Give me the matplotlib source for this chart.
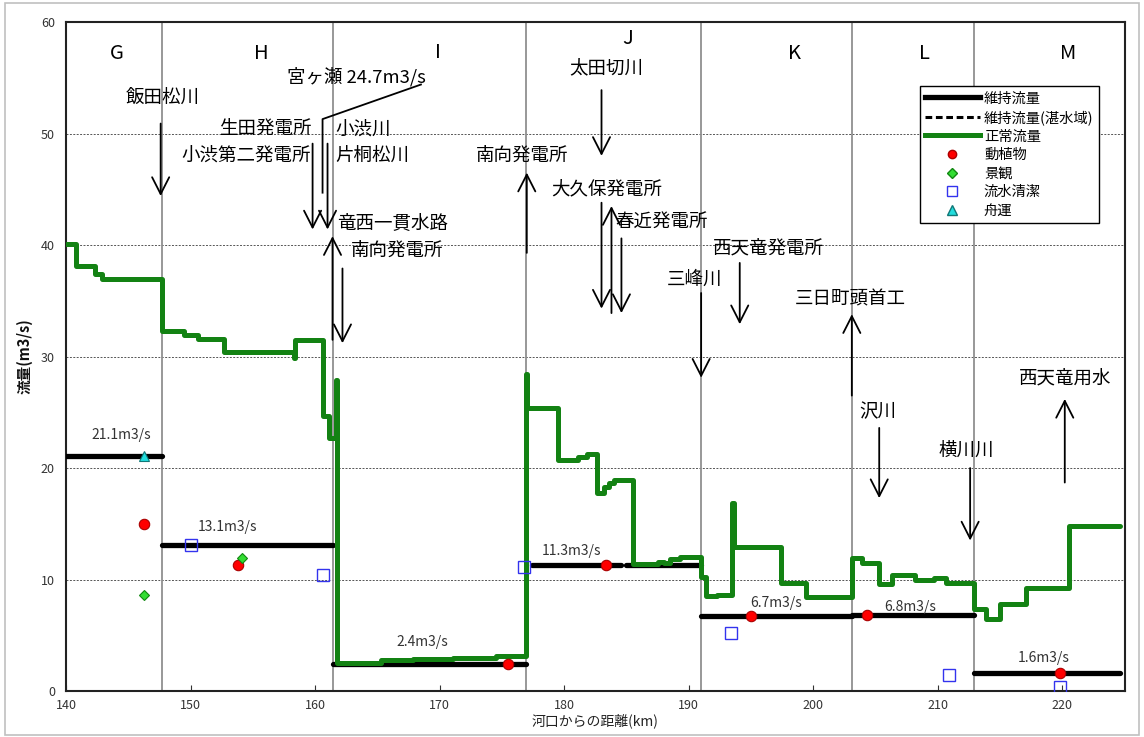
import matplotlib
matplotlib.use("Agg")
import matplotlib.pyplot as plt
from matplotlib.lines import Line2D
from matplotlib.patches import Rectangle

plt.rcParams['font.family'] = ['Noto Sans CJK JP', 'DejaVu Sans']

# ---------------- data ----------------
# 正常流量 (step series: value holds from km[i] to km[i+1])
normal_km = [140.0, 140.8, 142.3, 142.9, 147.7, 149.5, 150.6, 152.7, 158.3, 158.4,
             160.6, 161.1, 161.7, 161.8, 165.3, 167.9, 171.1, 174.5, 176.9, 177.0,
             179.5, 181.1, 181.8, 182.6, 183.2, 183.6, 184.0, 185.5, 187.5, 188.0,
             188.5, 189.3, 191.0, 191.4, 192.3, 193.5, 193.6, 197.4, 199.4, 203.1,
             203.9, 205.3, 206.3, 208.2, 209.7, 210.7, 212.9, 213.9, 215.0, 217.1,
             220.5, 224.6]
normal_q = [40.1, 38.1, 37.4, 37.0, 32.3, 31.9, 31.6, 30.4, 29.9, 31.5,
            24.7, 22.7, 27.9, 2.5, 2.8, 2.9, 3.0, 3.1, 28.4, 25.4,
            20.7, 21.0, 21.3, 17.8, 18.3, 18.7, 18.9, 11.4, 11.6, 11.5,
            11.8, 12.0, 10.2, 8.5, 8.6, 16.9, 12.9, 9.7, 8.4, 11.9,
            11.5, 9.6, 10.4, 10.0, 10.1, 9.7, 7.4, 6.5, 7.8, 9.2,
            14.8, 14.8]

# 維持流量 segments
maint_start = [140.0, 147.7, 161.4, 177.4, 185.0, 191.0, 203.1, 212.9]
maint_end = [147.7, 161.4, 176.9, 184.6, 191.0, 203.1, 212.9, 224.6]
maint_q = [21.1, 13.1, 2.4, 11.3, 11.3, 6.7, 6.8, 1.6]
maint_labels = ['21.1m3/s', '13.1m3/s', '2.4m3/s', '11.3m3/s', '6.7m3/s', '6.8m3/s', '1.6m3/s']
maint_label_km = [144.4, 153.0, 168.6, 180.6, 197.0, 207.8, 218.5]
maint_label_q = [23.0, 14.7, 4.4, 12.6, 7.9, 7.5, 3.0]

# point data
eco_km = [146.3, 153.8, 175.5, 183.4, 195.0, 204.3, 219.8]
eco_q = [15.0, 11.3, 2.4, 11.3, 6.7, 6.8, 1.6]
scene_km = [146.3, 154.1]
scene_q = [8.6, 11.9]
clean_km = [150.0, 160.6, 176.8, 193.4, 210.9, 219.8]
clean_q = [13.1, 10.4, 11.1, 5.2, 1.4, 0.4]
boat_km = [146.3]
boat_q = [21.1]

# sections
section_bounds = [147.7, 161.4, 176.9, 191.0, 203.1, 212.9]
section_names = ['G', 'H', 'I', 'J', 'K', 'L', 'M']
section_label_km = [144.1, 155.7, 169.9, 185.1, 198.5, 208.9, 220.5]
section_label_q = [57.2, 57.2, 57.3, 58.5, 57.2, 57.2, 57.2]

# annotation texts (text, km, q, ha)
note_text = ['飯田松川', '宮ヶ瀬 24.7m3/s', '生田発電所', '小渋第二発電所', '小渋川', '片桐松川',
             '竜西一貫水路', '南向発電所', '南向発電所', '太田切川', '大久保発電所', '春近発電所',
             '三峰川', '西天竜発電所', '三日町頭首工', '沢川', '横川川', '西天竜用水']
note_km = [147.8, 163.3, 159.7, 159.7, 161.6, 161.6,
           161.8, 166.6, 176.6, 183.4, 183.4, 187.8,
           190.5, 196.4, 203.0, 205.2, 212.3, 220.2]
note_q = [53.2, 55.1, 50.4, 48.0, 50.4, 48.0,
          42.0, 39.5, 48.0, 55.9, 45.0, 42.0,
          36.9, 39.7, 35.1, 25.0, 21.5, 28.0]
note_ha = ['center', 'center', 'right', 'right', 'left', 'left',
           'left', 'center', 'center', 'center', 'center', 'center',
           'center', 'center', 'center', 'center', 'center', 'center']

# arrows (km, tail q, tip q)
arrow_km = [147.6, 159.8, 161.0, 161.4, 162.2, 177.0, 183.0, 183.0, 183.8, 184.6,
            191.0, 194.1, 203.1, 205.3, 212.6, 220.2]
arrow_tail = [50.9, 49.1, 49.1, 31.5, 37.9, 39.3, 53.9, 43.8, 33.9, 40.6,
              35.7, 38.4, 26.5, 23.6, 20.0, 18.7]
arrow_tip = [44.4, 41.4, 41.4, 40.8, 31.2, 46.5, 48.0, 34.3, 43.5, 33.9,
             28.1, 32.9, 33.8, 17.3, 13.5, 26.2]

# 宮ヶ瀬 leader line
leader_km = [168.5, 160.6, 160.6]
leader_q = [54.4, 51.3, 44.7]

# ---------------- figure ----------------
fig = plt.figure(figsize=(11.44, 7.37), dpi=100)
ax = fig.add_axes([0.0577, 0.0624, 0.9253, 0.9076])
fig.patches.append(Rectangle((0.004, 0.003), 0.992, 0.993, transform=fig.transFigure,
                             fill=False, edgecolor='#c0c0c0', lw=1.2))

ax.set_xlim(140, 225)
ax.set_ylim(0, 60)
ax.set_xticks(range(140, 221, 10))
ax.set_yticks(range(0, 61, 10))
ax.tick_params(axis='x', direction='in', length=4, labelsize=9, pad=6, colors='#333333')
ax.tick_params(axis='y', length=0, labelsize=9, pad=8, colors='#333333')
for sp in ax.spines.values():
    sp.set_linewidth(1.5)
    sp.set_color('#222222')

for yv in range(10, 60, 10):
    ax.axhline(yv, color='#555555', lw=0.7, ls=(0, (2, 1.5)), zorder=1)
for b in section_bounds:
    ax.axvline(b, color='#909090', lw=1.3, zorder=1)

for name, xk, yq in zip(section_names, section_label_km, section_label_q):
    ax.text(xk, yq, name, ha='center', va='center', fontsize=14.5, zorder=5)

# maintenance flow
for s, e, q in zip(maint_start, maint_end, maint_q):
    ax.plot([s, e], [q, q], color='black', lw=3.8, solid_capstyle='round', zorder=3)
for t, xk, yq in zip(maint_labels, maint_label_km, maint_label_q):
    ax.text(xk, yq, t, ha='center', va='center', fontsize=10, color='#333333', zorder=5)

# normal flow
ax.step(normal_km, normal_q, where='post', color='#138213', lw=3.6, zorder=4,
        solid_joinstyle='round', solid_capstyle='round')

# points
ax.plot(eco_km, eco_q, 'o', ms=7.5, mfc='#ff0000', mec='#aa0000', mew=0.8, ls='none', zorder=6)
ax.plot(scene_km, scene_q, 'D', ms=5.5, mfc='#33dd33', mec='#118811', mew=0.8, ls='none', zorder=6)
ax.plot(clean_km, clean_q, 's', ms=8.5, mfc='none', mec='#3333ee', mew=1.0, ls='none', zorder=6)
ax.plot(boat_km, boat_q, '^', ms=7, mfc='#22dddd', mec='#117777', mew=0.8, ls='none', zorder=6)

# annotations
for t, xk, yq, ha in zip(note_text, note_km, note_q, note_ha):
    ax.text(xk, yq, t, ha=ha, va='center', fontsize=13.3, zorder=5)
for xk, y0, y1 in zip(arrow_km, arrow_tail, arrow_tip):
    ax.annotate('', xy=(xk, y1), xytext=(xk, y0),
                arrowprops=dict(arrowstyle='->,head_length=0.55,head_width=0.28',
                                lw=1.3, color='black', mutation_scale=22,
                                shrinkA=0, shrinkB=0), zorder=5)
ax.plot(leader_km, leader_q, color='black', lw=1.3, zorder=5)

# labels
ax.set_xlabel('河口からの距離(km)', fontsize=10, labelpad=1, color='#222222')
ax.set_ylabel('流量(m3/s)', fontsize=10.5, labelpad=6, color='#111111', fontweight='bold')

# legend
handles = [
    Line2D([], [], color='black', lw=3.8),
    Line2D([], [], color='black', lw=2.2, ls=(0, (2.2, 1.2))),
    Line2D([], [], color='#138213', lw=3.6),
    Line2D([], [], marker='o', ms=6, mfc='#ff0000', mec='#aa0000', ls='none'),
    Line2D([], [], marker='D', ms=5, mfc='#33dd33', mec='#118811', ls='none'),
    Line2D([], [], marker='s', ms=7, mfc='none', mec='#3333ee', ls='none'),
    Line2D([], [], marker='^', ms=6.5, mfc='#22dddd', mec='#117777', ls='none'),
]
labels = ['維持流量', '維持流量(湛水域)', '正常流量', '動植物', '景観', '流水清潔', '舟運']
leg = ax.legend(handles, labels, loc='upper left', bbox_to_anchor=(0.807, 0.904),
                borderaxespad=0, fontsize=10.3, frameon=True, fancybox=False,
                edgecolor='black', framealpha=1, handlelength=3.8, labelspacing=0.32,
                handletextpad=0.3, borderpad=0.35)
leg.get_frame().set_linewidth(1.0)
leg.set_zorder(10)

fig.savefig('out.png', dpi=100)
